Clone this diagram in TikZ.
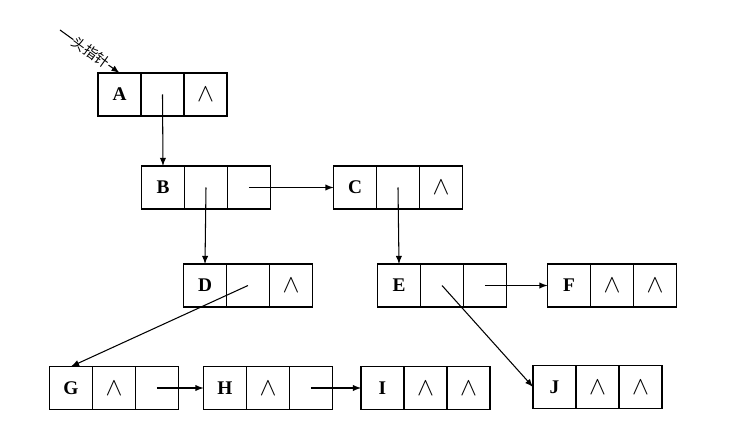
\documentclass[tikz,border=0pt]{standalone}
\usepackage{fontspec}
\setmainfont{Liberation Serif}
\newfontfamily\cjkfont{Noto Sans CJK SC}
\usetikzlibrary{positioning}
\tikzset{
  cell/.style={draw, minimum width=0.86cm, minimum height=0.86cm, outer sep=0pt,
    inner sep=0pt, line width=0.6pt, font=\fontsize{11}{13}\selectfont\bfseries},
  link/.style={-latex, line width=0.6pt},
}
% three-field list node: name, x, y, fields
\newcommand{\listnode}[6]{
  \node[cell] (#1a) at (#2,#3) {#4};
  \node[cell, right=0pt of #1a] (#1b) {#5};
  \node[cell, right=0pt of #1b] (#1c) {#6};
}
\newcommand{\nil}{{\Large$\wedge$}}

\begin{document}
\begin{tikzpicture}[x=0.02cm,y=-0.02cm]
\useasboundingbox (0,0) rectangle (746,425);

\listnode{A}{119.5}{94.5}{A}{}{\nil}
\listnode{B}{163}{187.5}{B}{}{}
\listnode{C}{355}{187.5}{C}{}{\nil}
\listnode{D}{205}{285.5}{D}{}{\nil}
\listnode{E}{399}{285.5}{E}{}{}
\listnode{F}{569}{285.5}{F}{\nil}{\nil}
\listnode{G}{71}{388}{G}{\nil}{}
\listnode{H}{225}{388}{H}{\nil}{}
\listnode{I}{382.5}{388}{I}{\nil}{\nil}
\listnode{J}{554.5}{387}{J}{\nil}{\nil}

\coordinate (head) at (60,30);
\draw[link] (head) -- (Aa.north)
  node[pos=0.52, sloped, fill=white, inner sep=0.3pt, font=\cjkfont\fontsize{8}{9}\selectfont] {头指针};

\draw[link] (Ab.center) -- (Ba.north);
\draw[link] (Bb.center) -- (Da.north);
\draw[link] (Bc.center) -- (Ca.west);
\draw[link] (Cb.center) -- (Ea.north);
\draw[link] (Db.center) -- (Ga.north);
\draw[link] (Eb.center) -- (Ja.west);
\draw[link] (Ec.center) -- (Fa.west);
\draw[link] (Gc.center) -- (Ha.west);
\draw[link] (Hc.center) -- (Ia.west);
\end{tikzpicture}
\end{document}
